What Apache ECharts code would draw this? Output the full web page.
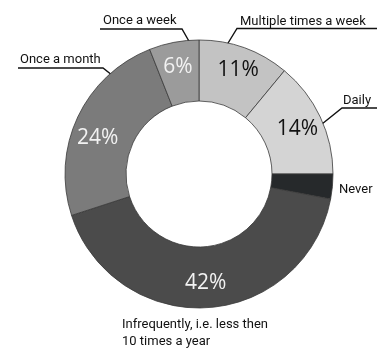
<!DOCTYPE html>
<html><head><meta charset="utf-8">
<script src="https://cdn.jsdelivr.net/npm/echarts@6/dist/echarts.min.js"></script>
<style>html,body{margin:0;padding:0;background:#fff}#c{width:377px;height:350px}</style>
</head><body><div id="c"></div>
<script>
// Data (clockwise from 12 o'clock)
const categories = ['Multiple times a week', 'Daily', 'Never', 'Infrequently, i.e. less then\n10 times a year', 'Once a month', 'Once a week'];
const values = [11, 14, 3, 42, 24, 6];
const showPct = [true, true, false, true, true, true];

// Styles / layout
const colors = ['#c3c3c3', '#d4d4d4', '#26292b', '#4b4b4b', '#7b7b7b', '#9b9b9b'];
const pctColors = ['#111111', '#111111', '#111111', '#f2f2f2', '#f2f2f2', '#f2f2f2'];
const pctShift = [[3, -4], [2, 0], [0, 0], [0, 3], [-5, 9], [-1, -2]];
const nameLayouts = [
  { x: 240, y: 30, line: [[225, 48], [237, 28.5], [377, 28.5]] },
  { x: 343, y: 109, line: [[322, 124], [342, 108], [377, 108]] },
  { x: 339, y: 198, line: null },
  { x: 122, y: 350, line: null },
  { x: 20, y: 68, line: [[122, 83], [103, 68], [18, 68]] },
  { x: 103, y: 29, line: [[190, 43], [182, 29], [100, 29]] }
];

const center = [199, 174];
const radius = [73, 134];

const sliceData = categories.map((n, i) => ({
  name: n, value: values[i],
  itemStyle: { color: colors[i] },
  label: { show: showPct[i], color: pctColors[i] }
}));
const nameData = categories.map((n, i) => ({
  name: n, value: values[i],
  labelLine: { show: !!nameLayouts[i].line }
}));

const chart = echarts.init(document.getElementById('c'), null, { renderer: 'canvas' });
chart.setOption({
  animation: false,
  series: [
    {
      type: 'pie', center: center, radius: radius, startAngle: 90, clockwise: true,
      avoidLabelOverlap: false, silent: true,
      itemStyle: { borderColor: '#3a3a3a', borderWidth: 0.8 },
      label: {
        position: 'inside', formatter: '{c}%',
        fontFamily: 'Open Sans', fontSize: 21, fontWeight: 'normal'
      },
      labelLine: { show: false },
      labelLayout: function (p) {
        const s = pctShift[p.dataIndex];
        return { dx: s[0], dy: s[1] };
      },
      data: sliceData
    },
    {
      type: 'pie', center: center, radius: radius, startAngle: 90, clockwise: true,
      avoidLabelOverlap: false, silent: true,
      itemStyle: { color: 'rgba(0,0,0,0)', borderWidth: 0 },
      label: {
        position: 'outside', formatter: '{b}',
        fontFamily: 'Roboto', fontSize: 13, color: '#111', lineHeight: 17
      },
      labelLine: { show: true, lineStyle: { color: '#111', width: 1.4 } },
      labelLayout: function (p) {
        const L = nameLayouts[p.dataIndex];
        const o = { x: L.x, y: L.y, align: 'left', verticalAlign: 'bottom' };
        if (L.line) o.labelLinePoints = L.line;
        return o;
      },
      data: nameData
    }
  ]
});
</script>
</body></html>
